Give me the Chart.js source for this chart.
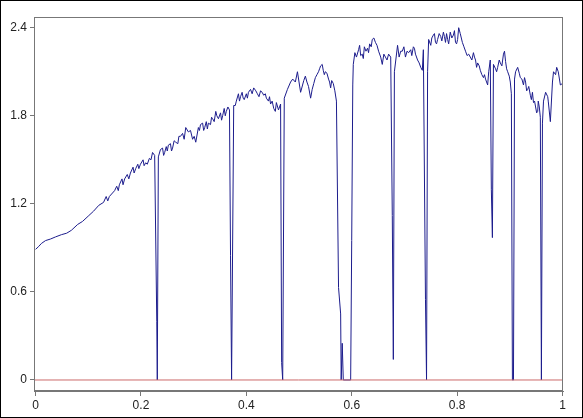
<!DOCTYPE html>
<html>
<head>
<meta charset="utf-8">
<script src="https://cdn.jsdelivr.net/npm/chart.js@4.4.1/dist/chart.umd.min.js"></script>
<style>
  html, body { margin: 0; padding: 0; background: #fff; }
  #wrap { width: 583px; height: 418px; border: 1px solid #000; box-sizing: border-box; }
  canvas { display: block; }
</style>
</head>
<body>
<div id="wrap"><canvas id="spectrum" width="581" height="416"></canvas></div>
<script>
// --- data ---
// main trace (including the deep dips)
const xPos = [
  0.000,0.006,0.011,0.019,0.028,0.038,0.049,0.059,0.068,0.080,
  0.089,0.101,0.110,0.120,0.129,0.140,0.150,0.159,0.169,0.180,
  0.190,0.199,0.209,0.216,0.222,0.226,0.230,0.231,0.233,0.237,
  0.245,0.252,0.260,0.266,0.275,0.285,0.290,0.298,0.304,0.313,
  0.321,0.328,0.336,0.342,0.347,0.355,0.362,0.368,0.370,0.372,
  0.376,0.381,0.389,0.396,0.404,0.414,0.421,0.427,0.433,0.438,
  0.446,0.452,0.457,0.461,0.465,0.467,0.469,0.472,0.478,0.484,
  0.488,0.493,0.497,0.503,0.509,0.512,0.518,0.522,0.528,0.531,
  0.537,0.541,0.546,0.550,0.556,0.560,0.565,0.571,0.575,0.579,
  0.580,0.582,0.584,0.598,0.600,0.602,0.603,0.609,0.613,0.617,
  0.620,0.624,0.630,0.634,0.639,0.645,0.651,0.655,0.658,0.664,
  0.670,0.674,0.677,0.679,0.681,0.687,0.693,0.696,0.702,0.708,
  0.712,0.717,0.721,0.725,0.731,0.734,0.736,0.740,0.742,0.744,
  0.746,0.750,0.755,0.759,0.763,0.769,0.774,0.778,0.782,0.787,
  0.793,0.797,0.801,0.803,0.806,0.810,0.816,0.822,0.825,0.831,
  0.835,0.839,0.844,0.850,0.854,0.858,0.860,0.863,0.865,0.867,
  0.869,0.873,0.877,0.882,0.888,0.892,0.896,0.901,0.903,0.905,
  0.907,0.909,0.911,0.915,0.920,0.926,0.930,0.934,0.939,0.943,
  0.945,0.949,0.953,0.954,0.958,0.960,0.962,0.964,0.968,0.972,
  0.973,0.977,0.981,0.983,0.987,0.989,0.992,0.996,1.000
];
const signal = [
  0.89,0.91,0.93,0.95,0.96,0.975,0.99,1.00,1.02,1.06,
  1.08,1.12,1.15,1.19,1.21,1.25,1.29,1.33,1.37,1.41,
  1.44,1.47,1.48,1.51,1.55,1.53,0.40,0.00,1.52,1.57,
  1.55,1.60,1.58,1.62,1.66,1.72,1.69,1.64,1.62,1.74,
  1.72,1.75,1.78,1.83,1.78,1.80,1.83,1.84,0.85,0.00,
  1.87,1.90,1.93,1.91,1.96,1.99,1.95,1.97,1.94,1.92,
  1.88,1.85,1.89,1.84,1.88,0.12,0.00,1.92,1.98,2.03,
  2.05,2.03,2.10,1.96,2.04,2.07,2.00,1.92,2.02,2.06,
  2.10,2.14,2.11,2.10,2.05,1.99,2.02,1.90,0.63,0.45,
  0.00,0.25,0.00,0.00,0.95,2.01,2.15,2.20,2.25,2.21,
  2.22,2.27,2.26,2.29,2.32,2.30,2.24,2.20,2.15,2.20,
  2.22,2.20,1.12,0.14,2.10,2.28,2.24,2.24,2.20,2.23,
  2.25,2.27,2.22,2.18,2.13,2.11,2.25,0.55,0.00,2.10,
  2.32,2.28,2.35,2.30,2.32,2.34,2.37,2.30,2.32,2.37,
  2.35,2.30,2.32,2.40,2.36,2.30,2.24,2.22,2.20,2.23,
  2.18,2.16,2.11,2.06,2.05,2.01,2.10,2.18,1.30,0.97,
  2.15,2.12,2.13,2.16,2.22,2.17,2.10,2.03,1.95,0.00,
  0.00,2.05,2.10,2.13,2.06,2.01,2.03,1.98,1.94,1.96,
  1.89,1.86,1.83,1.90,1.79,0.00,1.75,1.90,1.96,1.93,
  1.90,1.76,2.03,2.10,2.08,2.13,2.10,2.01,2.02
];
// small ripples between the main readings
const rippleX = [
  0.134,0.137,0.154,0.157,0.164,0.166,0.174,0.177,0.185,0.187,
  0.194,0.196,0.204,0.206,0.212,0.219,0.241,0.243,0.248,0.250,
  0.256,0.258,0.263,0.270,0.272,0.279,0.282,0.294,0.301,0.309,
  0.311,0.317,0.319,0.324,0.326,0.332,0.334,0.339,0.344,0.351,
  0.353,0.358,0.360,0.365,0.379,0.385,0.387,0.392,0.394,0.400,
  0.402,0.408,0.411,0.418,0.424,0.430,0.436,0.442,0.444,0.449,
  0.455,0.515,0.525,0.534,0.539,0.544,0.548,0.553,0.558,0.562,
  0.568,0.606,0.615,0.622,0.627,0.632,0.637,0.642,0.648,0.661,
  0.667,0.690,0.699,0.705,0.714,0.719,0.728,0.752,0.757,0.761,
  0.766,0.771,0.776,0.780,0.784,0.790,0.795,0.799,0.813,0.819,
  0.828,0.833,0.837,0.842,0.847,0.852,0.875,0.880,0.885,0.890,
  0.894,0.899,0.918,0.923,0.928,0.932,0.936,0.941,0.947,0.951,
  0.956
];
const rippleY = [
  1.25,1.22,1.32,1.29,1.37,1.33,1.40,1.37,1.45,1.41,
  1.47,1.44,1.50,1.46,1.47,1.50,1.58,1.53,1.59,1.56,
  1.61,1.56,1.63,1.61,1.66,1.68,1.64,1.70,1.66,1.72,
  1.70,1.75,1.70,1.76,1.71,1.74,1.79,1.76,1.80,1.82,
  1.77,1.85,1.80,1.86,1.87,1.95,1.90,1.96,1.92,1.95,
  1.92,1.98,1.95,1.97,1.93,1.96,1.95,1.90,1.93,1.90,
  1.83,2.03,1.98,2.08,2.12,2.15,2.08,2.09,2.03,2.04,
  1.97,2.23,2.28,2.19,2.24,2.23,2.27,2.33,2.28,2.22,
  2.18,2.20,2.27,2.24,2.21,2.26,2.16,2.33,2.36,2.29,
  2.36,2.31,2.34,2.36,2.29,2.33,2.38,2.29,2.27,2.21,
  2.18,2.20,2.13,2.14,2.08,2.08,2.10,2.18,2.14,2.24,
  2.12,2.07,2.09,2.05,2.06,1.97,2.00,1.91,1.90,1.82,
  1.86
];
const baseline = [0, 0];
const baselineX = [-0.003, 1.001];
const xTicks = [0, 0.2, 0.4, 0.6, 0.8, 1];
const yTicks = [0, 0.6, 1.2, 1.8, 2.4];

// merge main readings and ripples in x order
const tracePoints = xPos.map((x, i) => ({ x: x, y: signal[i] }))
  .concat(rippleX.map((x, i) => ({ x: x, y: rippleY[i] })))
  .sort((a, b) => a.x - b.x);

// draw the gray frame round the plot area
const framePlugin = {
  id: 'frame',
  afterDraw(chart) {
    const a = chart.chartArea, c = chart.ctx;
    c.save();
    c.strokeStyle = '#777';
    c.lineWidth = 1;
    c.strokeRect(a.left + 0.5, a.top + 0.5, a.right - a.left - 1, a.bottom - a.top - 1);
    c.restore();
  }
};

const tickFont = { family: '"Liberation Sans", Arial, sans-serif', size: 12 };

new Chart(document.getElementById('spectrum'), {
  type: 'line',
  data: {
    datasets: [
      {
        data: baselineX.map((x, i) => ({ x: x, y: baseline[i] })),
        borderColor: '#cc6a6a', borderWidth: 1, pointRadius: 0, tension: 0
      },
      {
        data: tracePoints,
        borderColor: '#1c1c8c', borderWidth: 1, pointRadius: 0, tension: 0
      }
    ]
  },
  options: {
    animation: false,
    responsive: false,
    layout: { padding: { top: 16, right: 19, left: 0, bottom: 0 } },
    plugins: { legend: { display: false }, tooltip: { enabled: false } },
    scales: {
      x: {
        type: 'linear', min: -0.003, max: 1.001,
        afterBuildTicks: s => { s.ticks = xTicks.map(v => ({ value: v })); },
        afterFit: s => { s.height = 26; },
        grid: { drawOnChartArea: false, drawTicks: true, tickLength: 5, color: '#777' },
        border: { color: '#777' },
        ticks: { font: tickFont, color: '#222', padding: 2, maxRotation: 0,
                 callback: v => String(Math.round(v * 10) / 10) }
      },
      y: {
        type: 'linear', min: -0.075, max: 2.473,
        afterBuildTicks: s => { s.ticks = yTicks.map(v => ({ value: v })); },
        afterFit: s => { s.width = 33; },
        grid: { drawOnChartArea: false, drawTicks: true, tickLength: 4, color: '#777' },
        border: { color: '#777' },
        ticks: { font: tickFont, color: '#222', padding: 3,
                 callback: v => String(Math.round(v * 10) / 10) }
      }
    }
  },
  plugins: [framePlugin]
});
</script>
</body>
</html>
